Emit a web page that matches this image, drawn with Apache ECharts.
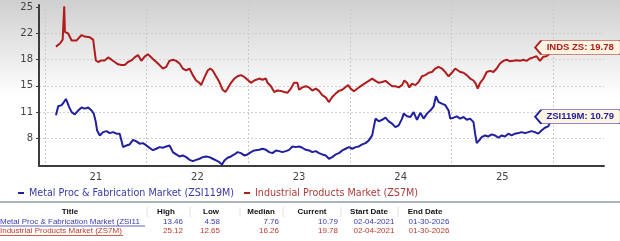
<!DOCTYPE html>
<html><head><meta charset="utf-8">
<script src="https://cdn.jsdelivr.net/npm/echarts@6/dist/echarts.min.js"></script>
<style>html,body{margin:0;padding:0;background:#fff}#c{width:620px;height:241px}</style>
</head><body><div id="c"></div>
<script>
// ---- data (x in fractional years) ----
const metalName = 'Metal Proc & Fabrication Market (ZSI119M)';
const indName = 'Industrial Products Market (ZS7M)';
const metalDates = [
 2021.108,2021.130,2021.164,2021.186,2021.206,2021.219,2021.238,2021.262,2021.294,2021.326,2021.360,2021.392,2021.425,2021.458,2021.480,2021.500,2021.513,2021.539,2021.572,2021.605,2021.637,2021.670,2021.703,2021.735,2021.752,2021.768,2021.801,2021.833,2021.866,2021.899,2021.931,2021.964,2021.997,
 2022.029,2022.062,2022.095,2022.127,2022.160,2022.193,2022.225,2022.242,2022.258,2022.291,2022.324,2022.356,2022.389,2022.422,2022.454,2022.487,2022.520,2022.552,2022.585,2022.618,2022.650,2022.683,2022.716,2022.742,2022.765,2022.797,2022.830,2022.863,2022.895,2022.928,2022.961,2022.993,
 2023.026,2023.059,2023.075,2023.108,2023.140,2023.174,2023.206,2023.238,2023.272,2023.304,2023.336,2023.370,2023.402,2023.434,2023.468,2023.500,2023.532,2023.566,2023.598,2023.630,2023.664,2023.696,2023.728,2023.762,2023.794,2023.826,2023.860,2023.892,2023.925,2023.958,2023.990,
 2024.023,2024.056,2024.088,2024.121,2024.154,2024.186,2024.219,2024.235,2024.252,2024.284,2024.317,2024.350,2024.382,2024.415,2024.448,2024.480,2024.513,2024.529,2024.562,2024.595,2024.627,2024.660,2024.693,2024.725,2024.758,2024.791,2024.824,2024.846,2024.873,2024.905,2024.938,2024.971,2024.987,
 2025.020,2025.052,2025.085,2025.118,2025.150,2025.183,2025.216,2025.232,2025.248,2025.272,2025.297,2025.330,2025.363,2025.395,2025.428,2025.461,2025.493,2025.526,2025.559,2025.591,2025.624,2025.657,2025.689,2025.722,2025.755,2025.787,2025.820,2025.853,2025.885,2025.918,2025.951,2025.968,2026.000
];
const metalValues = [
 10.98,12.15,12.3,12.7,13.1,12.7,12.05,11.4,11.1,11.6,12.0,11.85,12.0,11.6,11.2,10.1,9.0,8.37,8.8,8.93,8.67,8.8,8.6,8.6,7.7,6.85,7.07,7.2,7.8,7.6,7.3,7.37,7.07,
 6.75,6.45,6.64,6.85,6.77,6.94,7.07,6.64,6.2,5.9,5.64,5.77,5.55,5.2,5.03,5.2,5.34,5.55,5.64,5.55,5.34,5.12,4.9,4.58,5.12,5.47,5.64,5.9,6.2,6.07,5.77,5.9,
 6.2,6.42,6.64,6.5,6.64,6.5,6.2,6.07,6.42,6.33,6.2,6.33,6.5,6.94,6.85,6.94,6.77,6.5,6.42,6.2,6.33,6.07,5.9,5.77,5.34,5.55,5.9,6.07,6.42,6.64,6.85,
 6.64,6.85,6.94,7.2,7.37,7.72,8.37,9.45,10.55,10.2,10.4,10.67,10.2,9.9,9.45,9.67,10.55,11.2,10.85,10.76,11.4,10.4,11.3,10.55,11.2,11.6,12.15,13.46,12.7,12.5,12.3,11.6,10.55,
 10.67,10.85,10.55,10.76,10.4,10.55,10.1,8.6,7.37,7.72,8.15,8.37,8.24,8.5,8.37,8.07,8.37,8.24,8.6,8.37,8.6,8.67,8.8,8.67,8.8,8.93,8.8,8.6,9.0,9.37,9.55,10.0,10.79
];
const indDates = [
 2021.108,2021.147,2021.174,2021.186,2021.189,2021.196,2021.203,2021.228,2021.262,2021.311,2021.360,2021.392,2021.441,2021.474,2021.490,2021.500,2021.523,2021.556,2021.588,2021.621,2021.654,2021.686,2021.719,2021.752,2021.784,2021.817,2021.850,2021.882,2021.915,2021.948,2021.980,
 2022.013,2022.029,2022.062,2022.095,2022.127,2022.160,2022.193,2022.225,2022.258,2022.291,2022.324,2022.356,2022.389,2022.422,2022.454,2022.487,2022.520,2022.536,2022.569,2022.601,2022.625,2022.650,2022.683,2022.716,2022.748,2022.775,2022.797,2022.830,2022.863,2022.895,2022.928,2022.961,2022.993,
 2023.026,2023.059,2023.075,2023.108,2023.140,2023.174,2023.189,2023.223,2023.255,2023.287,2023.321,2023.353,2023.385,2023.419,2023.451,2023.483,2023.500,2023.532,2023.566,2023.598,2023.630,2023.664,2023.696,2023.728,2023.762,2023.794,2023.826,2023.860,2023.892,2023.925,2023.958,2023.983,
 2024.007,2024.039,2024.056,2024.088,2024.121,2024.154,2024.186,2024.219,2024.252,2024.284,2024.317,2024.350,2024.382,2024.415,2024.448,2024.480,2024.513,2024.536,2024.562,2024.585,2024.611,2024.644,2024.676,2024.709,2024.742,2024.775,2024.807,2024.840,2024.873,2024.905,2024.938,2024.971,
 2025.003,2025.036,2025.052,2025.085,2025.118,2025.150,2025.183,2025.216,2025.238,2025.258,2025.281,2025.314,2025.346,2025.379,2025.412,2025.444,2025.477,2025.510,2025.542,2025.575,2025.608,2025.640,2025.674,2025.706,2025.738,2025.772,2025.804,2025.836,2025.870,2025.902,2025.934,2025.968,2026.000
];
const indValues = [
 19.9,20.3,20.8,21.0,25.12,21.8,21.6,21.6,20.7,20.7,21.4,21.2,21.1,20.8,20.65,18.1,17.9,18.1,18.1,18.5,18.2,17.9,17.6,17.5,17.5,17.9,18.1,18.5,18.8,18.05,18.6,
 18.9,18.8,18.3,17.9,17.5,17.05,17.27,18.05,18.2,18.05,17.7,17.05,16.8,17.05,16.2,15.5,15.2,14.9,15.9,16.8,17.05,16.8,16.05,15.3,14.3,14.0,14.45,15.2,15.75,16.05,16.2,15.96,15.6,
 15.2,15.5,15.6,15.75,15.6,15.75,15.2,14.75,14.0,14.2,14.15,14.0,13.9,14.45,15.2,15.2,14.3,14.6,14.75,14.6,14.2,14.45,14.15,13.6,13.3,12.7,13.35,13.8,14.15,14.3,14.65,14.9,
 14.45,14.1,14.3,14.6,14.9,15.2,15.45,15.75,15.45,15.2,15.3,15.45,15.1,14.75,14.75,14.6,14.9,15.5,15.2,14.6,15.1,14.9,15.3,16.05,16.2,16.5,16.6,17.05,17.27,17.05,16.6,16.05,
 16.5,17.05,17.27,16.6,16.5,16.2,15.75,15.5,15.1,14.45,15.2,15.75,16.6,16.75,16.6,17.05,17.7,18.05,18.2,18.0,18.05,18.14,18.05,18.2,18.05,18.36,18.5,18.65,18.05,18.57,18.65,19.0,19.78
];
const yTickValues = [8, 11.4, 14.8, 18.2, 21.6, 25];
const yearBoundaries = [2021, 2022, 2023, 2024, 2025, 2026];
const yearLabelPositions = [2021.5, 2022.5, 2023.5, 2024.5, 2025.5];
const tableHeader = ['Title', 'High', 'Low', 'Median', 'Current', 'Start Date', 'End Date'];
const metalRow = [metalName, '13.46', '4.58', '7.76', '10.79', '02-04-2021', '01-30-2026'];
const indRow = [indName, '25.12', '12.65', '16.26', '19.78', '02-04-2021', '01-30-2026'];

// ---- colors ----
const RED = '#b01c1c', BLUE = '#1f1fa0';
const RED_T = '#c0392b', BLUE_T = '#3b3bb0';

const chart = echarts.init(document.getElementById('c'), null, {renderer: 'canvas'});
const zip = (xs, ys) => xs.map((x, i) => [x, ys[i]]);
const last = a => a[a.length - 1];

const tagPath = 'path://M0,7 L6,0.5 L84,0.5 Q86,0.5 86,2.5 L86,11.5 Q86,13.5 84,13.5 L6,13.5 Z';

function tableTexts() {
  const els = [];
  const font = 'Liberation Sans, Arial, sans-serif';
  const hdrX = [70, 166, 211, 261, 312, 369, 425];
  tableHeader.forEach((t, i) => els.push({type: 'text', x: hdrX[i], y: 212, style: {text: t, font: 'bold 8px ' + font, fill: '#111', align: 'center', verticalAlign: 'middle'}}));
  [147, 190, 240, 283, 341, 398].forEach(x => els.push({type: 'line', shape: {x1: x, y1: 207, x2: x, y2: 217}, style: {stroke: '#e2e2e2', lineWidth: 1}}));
  const valRight = [183, 220, 279, 338];
  [[metalRow, BLUE_T, 221.5, 145], [indRow, RED_T, 231, 123]].forEach(([row, col, y, ul]) => {
    els.push({type: 'text', x: 0, y: y, style: {text: row[0], font: '8px ' + font, fill: col, align: 'left', verticalAlign: 'middle', width: 145, overflow: 'truncate', ellipsis: ''}});
    els.push({type: 'line', shape: {x1: 0, y1: y + 4.5, x2: ul, y2: y + 4.5}, style: {stroke: col, lineWidth: 0.8}});
    for (let i = 1; i <= 4; i++) els.push({type: 'text', x: valRight[i - 1], y: y, style: {text: row[i], font: '8px ' + font, fill: col, align: 'right', verticalAlign: 'middle'}});
    els.push({type: 'text', x: 374, y: y, style: {text: row[5], font: '8px ' + font, fill: col, align: 'center', verticalAlign: 'middle'}});
    els.push({type: 'text', x: 429, y: y, style: {text: row[6], font: '8px ' + font, fill: col, align: 'center', verticalAlign: 'middle'}});
  });
  els.push({type: 'line', shape: {x1: 0, y1: 202, x2: 620, y2: 202}, style: {stroke: '#8e9aa8', lineWidth: 1.5}});
  return els;
}

function tag(color, text, dates, values) {
  return {
    silent: true,
    symbol: tagPath,
    symbolSize: [86, 14],
    symbolKeepAspect: false,
    symbolOffset: [25, 0],
    itemStyle: {color: '#fdf5e2', borderColor: color, borderWidth: 1},
    label: {show: true, position: 'inside', offset: [2, 0], formatter: text + ': ' + last(values).toFixed(2),
      color: color, fontSize: 9.5, fontWeight: 'bold', fontFamily: 'Liberation Sans'},
    data: [{coord: [last(dates), last(values)]}]
  };
}

const axisFont = {fontFamily: 'DejaVu Sans', fontSize: 10, color: '#444'};

chart.setOption({
  animation: false,
  backgroundColor: {type: 'linear', x: 0, y: 0, x2: 0, y2: 1,
    colorStops: [{offset: 0, color: '#cfcfcf'}, {offset: 0.4, color: '#ffffff'}, {offset: 1, color: '#ffffff'}]},
  grid: {left: 39, right: 16, top: 5, bottom: 75, containLabel: false},
  legend: {
    left: 13, top: 183, icon: 'rect', itemWidth: 6, itemHeight: 2, itemGap: 10,
    textStyle: {fontFamily: 'DejaVu Sans', fontSize: 9.6},
    data: [{name: metalName, textStyle: {color: '#3a3aa8'}}, {name: indName, textStyle: {color: '#b03a3a'}}]
  },
  xAxis: {
    type: 'value', min: 2020.941, max: 2026.5,
    axisLine: {show: true, onZero: false, lineStyle: {color: '#3c3c3c', width: 2}},
    axisTick: {show: false, customValues: yearBoundaries},
    axisLabel: {customValues: yearLabelPositions, formatter: v => String(Math.floor(v)).slice(2), margin: 6, ...axisFont},
    splitLine: {show: true, lineStyle: {color: '#c9c9c9', type: [2, 2], width: 1}}
  },
  yAxis: {
    type: 'value', min: 4.4, max: 25.3,
    axisLine: {show: true, lineStyle: {color: '#3c3c3c', width: 2}},
    axisTick: {show: true, length: 3, customValues: yTickValues, lineStyle: {color: '#3c3c3c'}},
    axisLabel: {customValues: yTickValues, formatter: v => String(Math.round(v)), margin: 6, ...axisFont},
    splitLine: {show: true, lineStyle: {color: '#d0d0d0', type: [2, 2], width: 1}}
  },
  series: [
    {name: metalName, type: 'line', showSymbol: false, color: BLUE, lineStyle: {width: 2, color: BLUE}, data: zip(metalDates, metalValues),
     markPoint: tag(BLUE, 'ZSI119M', metalDates, metalValues), z: 3},
    {name: indName, type: 'line', showSymbol: false, color: RED, lineStyle: {width: 2, color: RED}, data: zip(indDates, indValues),
     markPoint: tag(RED, 'INDS ZS', indDates, indValues), z: 3}
  ],
  graphic: tableTexts()
});
</script></body></html>
